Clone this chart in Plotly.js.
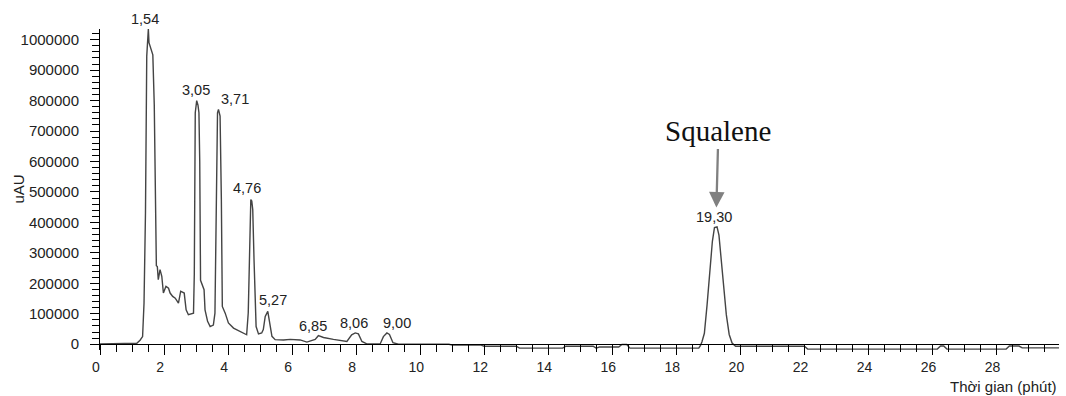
<!DOCTYPE html>
<html>
<head>
<meta charset="utf-8">
<script src="https://cdn.plot.ly/plotly-3.0.1.min.js"></script>
<style>html,body{margin:0;padding:0;background:#fff;}#chart{width:1066px;height:396px;}</style>
</head>
<body>
<div id="chart"></div>
<script>
// Retention time (min) and detector signal (uAU)
const time = [
  0, 0.6, 1.0, 1.15, 1.25, 1.33, 1.375, 1.42, 1.46, 1.51, 1.53, 1.58, 1.65, 1.695, 1.74, 1.76, 1.79, 1.82, 1.875, 1.93,
  1.98, 2.06, 2.14, 2.19, 2.27, 2.35, 2.45, 2.52, 2.63, 2.69, 2.76, 2.87, 2.92,
  2.945, 2.975, 3.02, 3.06, 3.09, 3.115, 3.14, 3.21, 3.25, 3.28, 3.36, 3.44, 3.54, 3.59,
  3.63, 3.67, 3.70, 3.75, 3.79, 3.82, 3.91, 4.01, 4.17, 4.375, 4.58,
  4.63, 4.67, 4.71, 4.74, 4.77, 4.81, 4.84, 4.875, 4.95, 5.05,
  5.10, 5.16, 5.24, 5.29, 5.37, 5.47, 5.73, 5.94, 6.25, 6.46, 6.72, 6.82, 6.98, 7.29, 7.71, 7.86, 7.97, 8.07, 8.18, 8.33,
  8.75, 8.85, 8.96, 9.04, 9.15, 9.32,
  10.9, 11.0, 11.9, 12.0, 13.0, 13.1, 14.45, 14.55, 15.4, 15.5, 15.6, 16.2, 16.3, 16.45, 16.55, 18.7,
  18.75, 18.80, 18.875, 18.96, 19.04, 19.125, 19.19, 19.27, 19.33, 19.40, 19.48, 19.56, 19.65, 19.74, 19.85,
  22.0, 22.1, 26.15, 26.25, 26.35, 26.45, 28.3, 28.4, 28.7, 28.8, 29.95
];
const signal = [
  1000, 1000, 1500, 3000, 13000, 25000, 135000, 430000, 946000, 1035000, 990000, 975000, 950000, 785000, 500000, 258000, 255000, 212000, 245000, 223000,
  168000, 190000, 184000, 168000, 157000, 151000, 135000, 174000, 168000, 113000, 97000, 102000, 102000,
  230000, 760000, 800000, 785000, 760000, 600000, 210000, 190000, 179000, 113000, 75000, 58000, 63000, 102000,
  366000, 760000, 771000, 749000, 475000, 124000, 102000, 70000, 53000, 42000, 31000,
  103000, 284000, 475000, 470000, 442000, 278000, 146000, 58000, 34000, 37000,
  48000, 91000, 108000, 80000, 26000, 15000, 14000, 16000, 14000, 7000, 16000, 28000, 22000, 16000, 9000, 31000, 37000, 34000, 9000, 1000,
  1000, 25000, 37000, 32000, 5000, 0,
  0, -3000, -3000, -6500, -6500, -13000, -13000, -6500, -6500, -13000, -9000, -9000, -1000, -1000, -13000, -13000,
  -5000, 8000, 36000, 130000, 240000, 338000, 383000, 385000, 358000, 282000, 185000, 97000, 32000, 4000, -6500,
  -6500, -16000, -16000, -6000, -6000, -16000, -16000, -6000, -6000, -12000, -12000
];

// Peak retention-time labels and where they sit (time, signal); the first sits above the axis top
const peakLabels = ['1,54', '3,05', '3,71', '4,76', '5,27', '6,85', '8,06', '9,00', '19,30'];
const peakLabelTime = [1.40, 3.01, 4.22, 4.60, 5.39, 6.65, 7.93, 9.26, 19.17];
const peakLabelValue = [1030000, 835000, 804000, 514000, 146000, 58600, 69700, 69700, 419000];
const peakLabelLift = [12, 0, 0, 0, 0, 0, 0, 0, 0];

// Squalene arrow target (time, signal)
const squaleneName = 'Squalene';
const squaleneTime = 19.25;
const squaleneValue = 449000;

const xTitle = 'Thời gian (phút)';
const yTitle = 'uAU';

const yMin = -19000, yMax = 1035000;
const xMin = 0, xMax = 29.95;

const FONT = 'Liberation Sans, Arial, sans-serif';
const TXT = '#222';

const annotations = peakLabels.map((t, i) => ({
  x: peakLabelTime[i], y: peakLabelValue[i], xref: 'x', yref: 'y',
  yshift: peakLabelLift[i],
  text: t, showarrow: false, xanchor: 'center', yanchor: 'middle',
  font: {family: FONT, size: 14.5, color: TXT}
}));

annotations.push({
  x: squaleneTime, y: squaleneValue, xref: 'x', yref: 'y',
  text: squaleneName, showarrow: true, ax: 2, ay: -76,
  arrowcolor: '#808080', arrowwidth: 2.3, arrowhead: 2, arrowsize: 1.35,
  font: {family: 'Liberation Serif, Times New Roman, serif', size: 29, color: '#111'}
});

annotations.push({
  xref: 'paper', yref: 'paper', x: 1, y: 0, xanchor: 'right', yanchor: 'middle',
  yshift: -36, text: xTitle, showarrow: false,
  font: {family: FONT, size: 15, color: TXT}
});

annotations.push({
  xref: 'paper', yref: 'paper', x: 0, y: 0.5, xanchor: 'center', yanchor: 'middle',
  xshift: -82, textangle: -90, text: yTitle, showarrow: false,
  font: {family: FONT, size: 15, color: TXT}
});

const trace = {
  x: time, y: signal, type: 'scatter', mode: 'lines',
  line: {color: '#444', width: 1.4},
  hoverinfo: 'skip'
};

const layout = {
  width: 1066, height: 396,
  margin: {l: 100, r: 7, t: 29, b: 46, pad: 0},
  paper_bgcolor: '#fff', plot_bgcolor: '#fff',
  showlegend: false,
  font: {family: FONT, size: 14, color: TXT},
  xaxis: {
    range: [xMin, xMax], anchor: 'free', position: (-yMin) / (yMax - yMin),
    showgrid: false, zeroline: false,
    showline: true, linecolor: '#000', linewidth: 1,
    ticks: 'outside', ticklen: 10, tickwidth: 1, tickcolor: '#000',
    tick0: 0, dtick: 2, ticklabelshift: -4,
    tickfont: {family: FONT, size: 14, color: TXT},
    minor: {dtick: 0.5, ticks: 'outside', ticklen: 7, tickwidth: 1, tickcolor: '#000', showgrid: false}
  },
  yaxis: {
    range: [yMin, yMax],
    showgrid: false, zeroline: false,
    showline: true, linecolor: '#000', linewidth: 1,
    ticks: 'outside', ticklen: 9, tickwidth: 1, tickcolor: '#000',
    tick0: 0, dtick: 100000, tickformat: 'd', ticklabelstandoff: 8,
    tickfont: {family: FONT, size: 15, color: TXT},
    minor: {dtick: 20000, ticks: 'outside', ticklen: 7, tickwidth: 1, tickcolor: '#000', showgrid: false}
  },
  annotations: annotations
};

Plotly.newPlot('chart', [trace], layout, {staticPlot: true, displayModeBar: false});
</script>
</body>
</html>
